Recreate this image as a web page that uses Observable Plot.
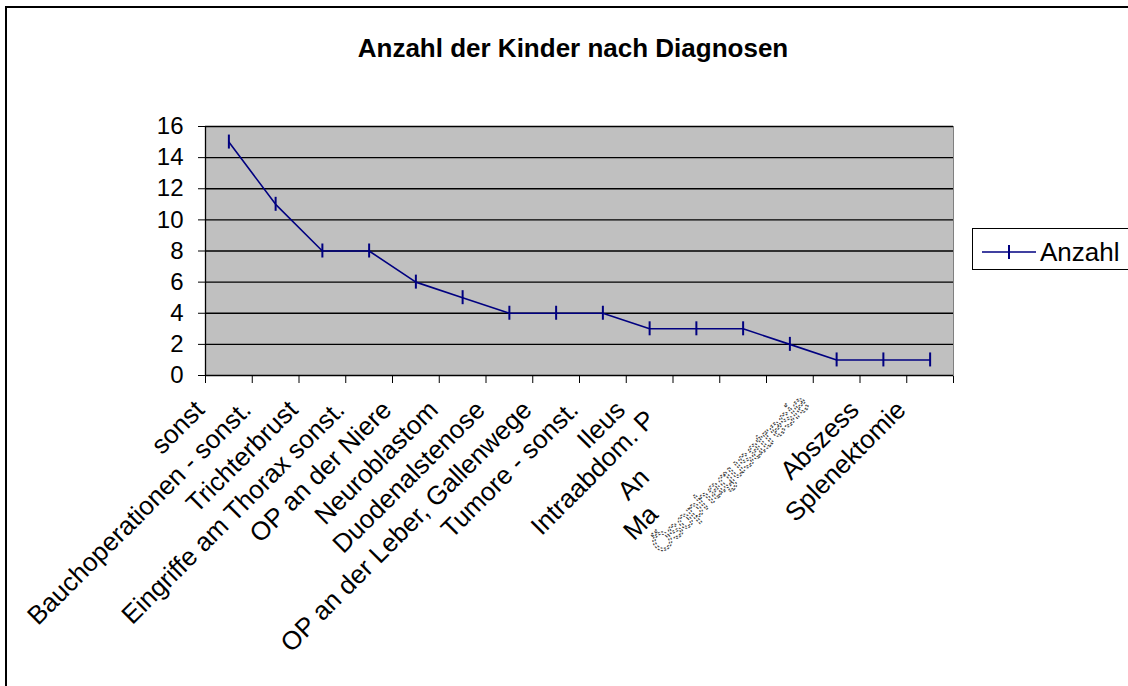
<!DOCTYPE html>
<html>
<head>
<meta charset="utf-8">
<script src="https://cdn.jsdelivr.net/npm/d3@7"></script>
<script src="https://cdn.jsdelivr.net/npm/@observablehq/plot@0.6"></script>
<style>
  html, body { margin: 0; padding: 0; background: #fff; overflow: hidden; }
  #chart { position: relative; width: 1128px; height: 686px; overflow: hidden; font-family: "Liberation Sans", Arial, sans-serif; }
  #frame { position: absolute; left: 5px; top: 6px; width: 1300px; height: 900px; border-left: 2px solid #000; border-top: 2px solid #000; pointer-events: none; }
  #title { position: absolute; left: 0; top: 35px; width: 1146px; text-align: center; font-weight: bold; font-size: 26px; line-height: 26px; color: #000; }
  #plot { position: absolute; left: 0; top: 100px; }
  #legend { position: absolute; left: 972px; top: 228px; width: 200px; height: 40px; border: 1px solid #000; background: #fff; }
  #legend svg { position: absolute; left: 0; top: 0; }
  #legend span { position: absolute; left: 67px; top: 10px; font-size: 26px; line-height: 26px; color: #000; }
</style>
</head>
<body>
<div id="chart">
  <div id="title">Anzahl der Kinder nach Diagnosen</div>
  <div id="plot"></div>
  <div id="legend">
    <svg width="70" height="40"><line x1="9" y1="23" x2="63" y2="23" stroke="#000080" stroke-width="1.5"/><line x1="36" y1="16" x2="36" y2="30" stroke="#000080" stroke-width="2"/></svg>
    <span>Anzahl</span>
  </div>
  <div id="frame"></div>
</div>
<script>
const categories = [
  "sonst",
  "Bauchoperationen - sonst.",
  "Trichterbrust",
  "Eingriffe am Thorax sonst.",
  "OP an der Niere",
  "Neuroblastom",
  "Duodenalstenose",
  "OP an der Leber, Gallenwege",
  "Tumore - sonst.",
  "Ileus",
  "Intraabdom. P",
  "An",
  "Ma",
  "Ösophagusatresie",
  "Abszess",
  "Splenektomie"
];
const values = [15, 11, 8, 8, 6, 5, 4, 4, 4, 3, 3, 3, 2, 1, 1, 1];
const yTicks = [0, 2, 4, 6, 8, 10, 12, 14, 16];
const clipped = ["Intraabdom. P", "An", "Ma"];
const faded = ["Ösophagusatresie"];

const table = categories.map((c, i) => ({cat: c, pos: i + 0.5, value: values[i]}));
const normal = table.filter(d => !clipped.includes(d.cat) && !faded.includes(d.cat));
const fadedRows = table.filter(d => faded.includes(d.cat));
const row = name => table.filter(d => d.cat === name);

const navy = "#000080";
const ff = "Liberation Sans, Arial, sans-serif";
const labelFont = {fontSize: 26, fontFamily: ff, fill: "#000"};

const plot = Plot.plot({
  width: 1128,
  height: 586,
  marginLeft: 205,
  marginRight: 175,
  marginTop: 26,
  marginBottom: 311,
  style: {fontFamily: ff, fontSize: "24px", color: "#000", background: "transparent", overflow: "visible"},
  x: {type: "linear", domain: [0, categories.length], ticks: d3.range(categories.length + 1), tickFormat: () => "", tickSize: 8, label: null},
  y: {domain: [0, 16], ticks: yTicks, tickSize: 7, tickPadding: 15, label: null},
  marks: [
    Plot.frame({fill: "#c0c0c0", stroke: "#808080"}),
    Plot.ruleY(yTicks.filter(v => v > 0), {stroke: "#000", strokeWidth: 1.3}),
    Plot.ruleY([0], {stroke: "#000", strokeWidth: 1.3}),
    Plot.ruleX([0], {stroke: "#000", strokeWidth: 1.3}),
    Plot.line(table, {x: "pos", y: "value", stroke: navy, strokeWidth: 1.6}),
    Plot.ruleX(table, {x: "pos", y1: "value", y2: "value", insetTop: -7, insetBottom: -7, stroke: navy, strokeWidth: 2}),
    Plot.text(normal, {x: "pos", frameAnchor: "bottom", text: "cat", rotate: -45, textAnchor: "end", dx: -23, dy: 36, ...labelFont}),
    Plot.text(fadedRows, {x: "pos", frameAnchor: "bottom", text: "cat", rotate: -45, textAnchor: "end", dx: -26, dy: 30, fontSize: 26, fontFamily: ff, fill: "none", stroke: "#444", strokeWidth: 1.1, strokeDasharray: "2,1.5"}),
    Plot.text(row("Intraabdom. P"), {x: "pos", frameAnchor: "bottom", text: "cat", rotate: -45, textAnchor: "start", dx: -155, dy: 161, ...labelFont}),
    Plot.text(row("An"), {x: "pos", frameAnchor: "bottom", text: "cat", rotate: -45, textAnchor: "start", dx: -115, dy: 126, ...labelFont}),
    Plot.text(row("Ma"), {x: "pos", frameAnchor: "bottom", text: "cat", rotate: -45, textAnchor: "start", dx: -156, dy: 166, ...labelFont})
  ]
});
document.getElementById("plot").appendChild(plot);
</script>
</body>
</html>
